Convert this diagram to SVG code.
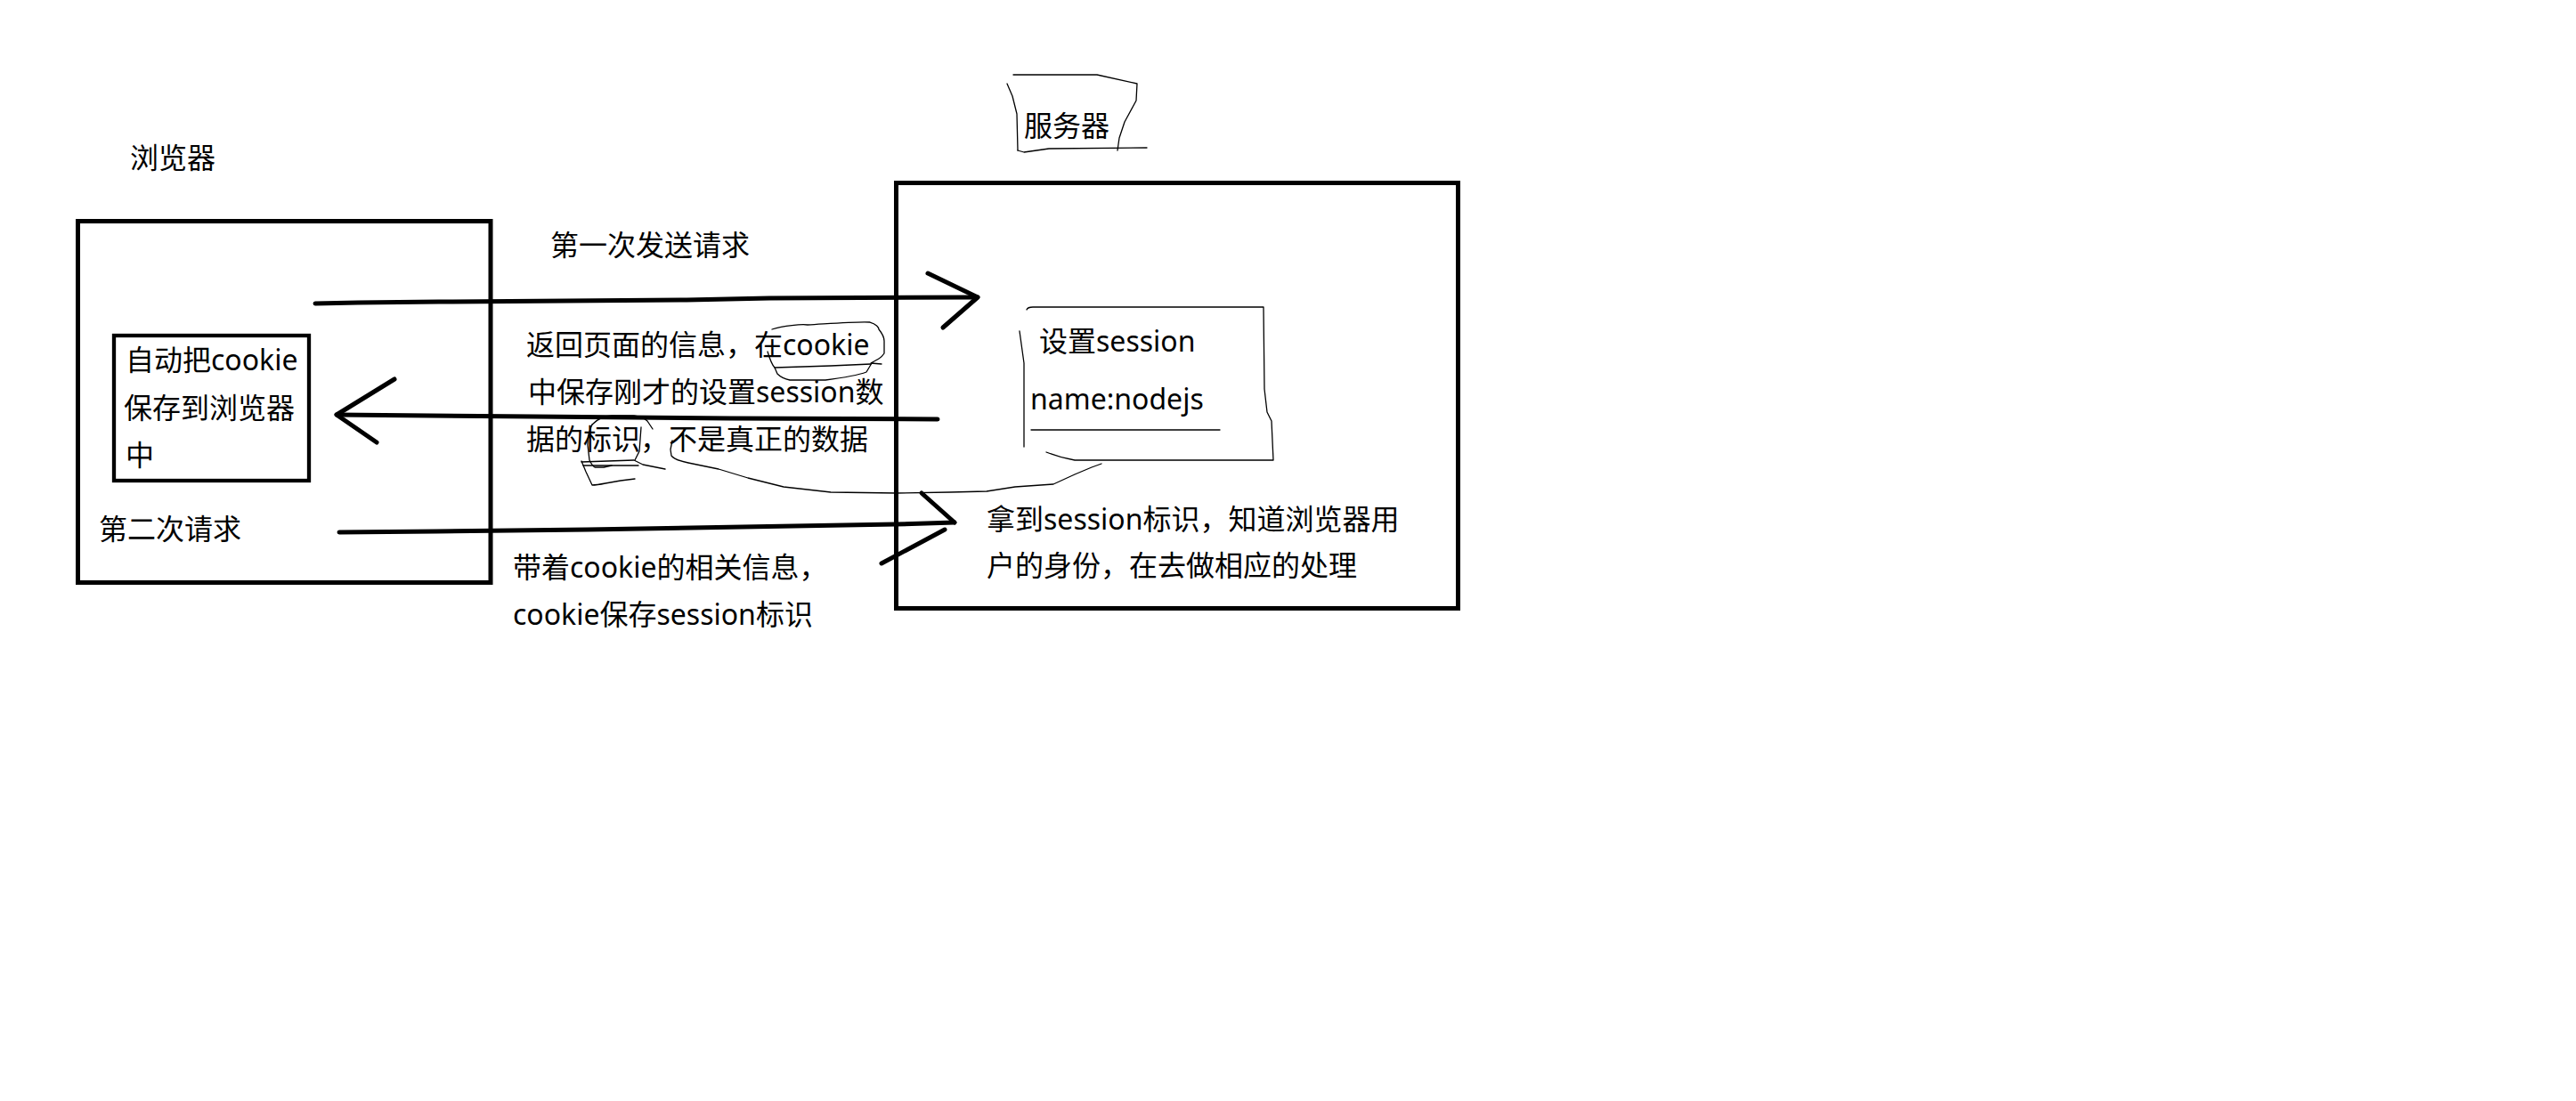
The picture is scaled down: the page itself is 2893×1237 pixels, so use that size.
<svg xmlns="http://www.w3.org/2000/svg" width="2893" height="1237" viewBox="0 0 2893 1237">
  <style>
    .t { font-family: "Noto Sans", "Noto Sans CJK SC", sans-serif; font-size: 32px; fill: #000; }
    .box { fill: none; stroke: #000; stroke-width: 5; }
    .inner { fill: none; stroke: #000; stroke-width: 4.3; }
    .arrow { fill: none; stroke: #000; stroke-width: 5; stroke-linecap: round; stroke-linejoin: round; }
    .pen { fill: none; stroke: #000; stroke-width: 1.3; stroke-linecap: round; stroke-linejoin: round; }
  </style>
  <rect width="2893" height="1237" fill="#fff"/>

  <!-- browser side -->
  <g id="browser">
    <text class="t" x="146" y="189">浏览器</text>
    <rect class="box" x="87.5" y="248.5" width="463.5" height="406"/>
    <text class="t" x="111" y="606">第二次请求</text>
  </g>

  <g id="cookie-store">
    <rect class="inner" x="128" y="377" width="219" height="163"/>
    <text class="t" x="141" y="416">自动把cookie</text>
    <text class="t" x="139" y="470">保存到浏览器</text>
    <text class="t" x="141" y="523">中</text>
  </g>

  <!-- server side -->
  <g id="server">
    <text class="t" x="1150" y="153">服务器</text>
    <path class="pen" d="M1138,84 L1232,84 L1277,94 L1276,113 L1263,137 L1257,155 L1255,169"/>
    <path class="pen" d="M1143,169 L1150,171 L1178,167 L1288,166"/>
    <path class="pen" d="M1131,94 L1137,108 L1142,128 L1143,169"/>
    <rect class="box" x="1006.5" y="205.5" width="631" height="478"/>
    <text class="t" x="1108" y="595">拿到session标识，知道浏览器用</text>
    <text class="t" x="1108" y="647">户的身份，在去做相应的处理</text>
  </g>

  <g id="session-store">
    <path class="pen" d="M1153,348 Q1154,345 1160,345 L1419,345 L1420,437 L1423,463 L1428,473 L1430,517 L1207,517 Q1190,514 1175,508"/>
    <path class="pen" d="M1145,372 L1150,408 L1150,502"/>
    <text class="t" x="1167" y="395">设置session</text>
    <text class="t" x="1157" y="460">name:nodejs</text>
    <path class="pen" d="M1158,483 L1370,483"/>
  </g>

  <!-- request / response arrows and their labels -->
  <g id="connectors">
    <g id="first-request">
      <polyline class="arrow" points="354,341 402,340 493,339 771,337 864,335 1098,334"/>
      <polyline class="arrow" points="1042,307 1098,334 1059,368"/>
      <text class="t" x="618" y="287">第一次发送请求</text>
    </g>
    <g id="response">
      <polyline class="arrow" points="1053,471 820,470 600,468 378,466"/>
      <polyline class="arrow" points="443,426 378,466 423,497"/>
      <text class="t" x="591" y="399">返回页面的信息，在cookie</text>
      <text class="t" x="593" y="452">中保存刚才的设置session数</text>
      <text class="t" x="591" y="505">据的标识，不是真正的数据</text>
    </g>
    <g id="second-request">
      <polyline class="arrow" points="381,598 490,597 660,595 1006,589 1072,587"/>
      <polyline class="arrow" points="1035,554 1072,587"/>
      <polyline class="arrow" points="990,633 1061,595"/>
      <text class="t" x="576" y="649">带着cookie的相关信息，</text>
      <text class="t" x="576" y="702">cookie保存session标识</text>
    </g>
    <!-- pen marks linking the cookie id to the stored session -->
    <g id="pen-marks">
      <path class="pen" d="M867,370 C880,366 900,364 907,365 C940,363 965,361 977,362 C984,364 987,368 987,370 C991,375 993,380 993,383 L993,397 C991,400 989,402 987,403 L978,408 L990,409"/>
      <path class="pen" d="M870,413 L933,411 L978,409"/>
      <path class="pen" d="M862,395 C865,405 868,411 870,413 L873,420 C877,424 882,426 887,427 L927,427 C950,424 965,421 973,418 L979,408"/>
      <path class="pen" d="M665,477 C672,470 680,467 687,467 L712,467 C719,468 724,470 727,473 L733,482"/>
      <path class="pen" d="M665,477 C661,485 660,493 660,500 L662,517 C664,521 666,524 668,525 L678,525 L687,523"/>
      <path class="pen" d="M720,480 L718,507 L713,517"/>
      <path class="pen" d="M653,519 L712,517 L722,522 L747,527"/>
      <path class="pen" d="M655,523 L717,523"/>
      <path class="pen" d="M653,518 L658,530 L665,545 C670,545 675,544 680,543 L697,540 L713,538"/>
      <path class="pen" d="M755,495 L753,505 L754,512 Q758,517 773,520 L807,527 L840,537 L880,547 L933,553 L1007,554 L1067,553 L1108,552 L1140,547 L1183,544 L1207,533 L1226,525 L1237,521"/>
    </g>
  </g>
</svg>
